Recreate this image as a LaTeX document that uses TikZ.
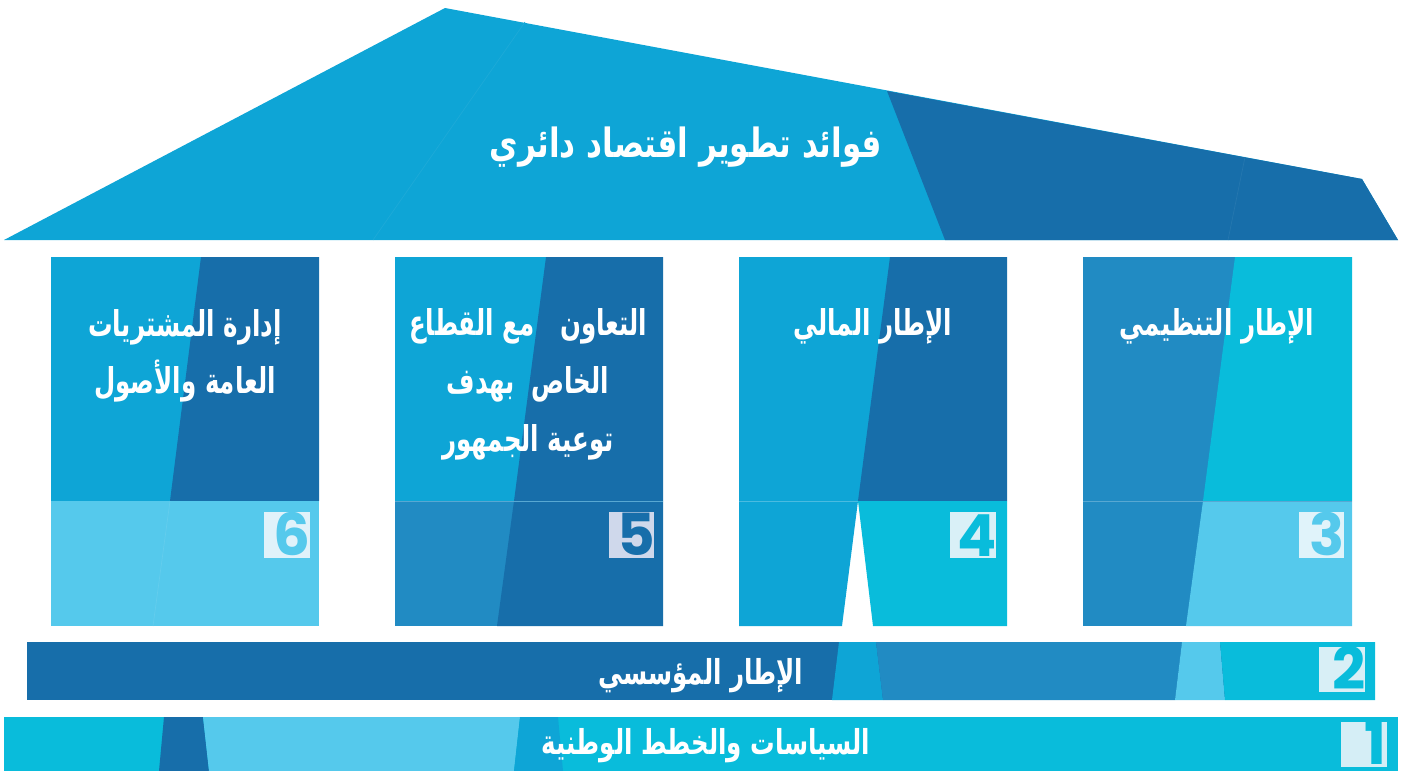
\documentclass[tikz,border=0pt]{standalone}
\usepackage{fontspec}
\usepackage{graphicx}
\newfontfamily\arabicfont[Script=Arabic]{DejaVu Sans}
\newfontfamily\digitfont{Poppins}
\TeXXeTstate=1
\definecolor{lb}{HTML}{0EA5D6}
\definecolor{db}{HTML}{176EAA}
\definecolor{mb}{HTML}{218BC3}
\definecolor{cy}{HTML}{09BCDB}
\definecolor{lc}{HTML}{55C9EC}
\definecolor{pale6}{HTML}{E0F2FA}
\definecolor{pale5}{HTML}{CFD8EB}
\definecolor{pale4}{HTML}{D9F0F7}
\definecolor{pale3}{HTML}{E0F3FA}
\definecolor{pale2}{HTML}{D8EFF6}
\definecolor{pale1}{HTML}{D5EEF6}
\tikzset{
  lbl/.style={text=white, inner sep=0pt, anchor=base,
    font=\arabicfont\bfseries\fontsize{24.5}{28}\selectfont},
  rooflbl/.style={lbl, font=\arabicfont\bfseries\fontsize{31}{34}\selectfont},
  barlbl/.style={lbl, font=\arabicfont\bfseries\fontsize{24.5}{28}\selectfont},
  digit/.style={inner sep=0pt, anchor=base east,
    font=\digitfont\bfseries\fontsize{58}{60}\selectfont},
  seam/.style={line width=0.7pt},
}
\begin{document}
\begin{tikzpicture}[x=1pt,y=-1pt]
\useasboundingbox (0,0) rectangle (1406,771);
% roof
\fill[lb] (445,8) -- (1362,179) -- (1398,240) -- (4,240) -- cycle;
\fill[db] (887,91) -- (1362,179) -- (1398,240) -- (945,240) -- cycle;
\draw[seam, lb!94!white] (525,22) -- (373,240);
\draw[seam, db!94!white] (1245,157) -- (1228,240);
\node[rooflbl] (roof) at (686,157) {\scalebox{1}[1.3]{\beginR فوائد تطوير اقتصاد دائري\endR}};
% column 6
\fill[lb] (51,257) rectangle (319,501);
\fill[db] (201,257) -- (319,257) -- (319,501) -- (170,501) -- cycle;
\fill[lc] (51,501) rectangle (319,626);
\draw[seam, lc!92!white] (170,501) -- (153,626);
% column 5
\fill[lb] (395,257) rectangle (663,501);
\fill[db] (546,257) -- (663,257) -- (663,501) -- (514,501) -- cycle;
\fill[mb] (395,501) rectangle (663,626);
\fill[db] (514,501) -- (663,501) -- (663,626) -- (497,626) -- cycle;
\draw[seam, mb!75!white] (395,501) -- (663,501);
% column 4
\fill[lb] (739,257) rectangle (1007,501);
\fill[db] (890,257) -- (1007,257) -- (1007,501) -- (858,501) -- cycle;
\fill[lb] (739,501) -- (858,501) -- (842,626) -- (739,626) -- cycle;
\fill[cy] (858,501) -- (1007,501) -- (1007,626) -- (873,626) -- cycle;
\draw[seam, lb!75!white] (739,501) -- (858,501);
% column 3
\fill[mb] (1083,257) rectangle (1352,501);
\fill[cy] (1235,257) -- (1352,257) -- (1352,501) -- (1203,501) -- cycle;
\fill[mb] (1083,501) rectangle (1352,626);
\fill[lc] (1203,501) -- (1352,501) -- (1352,626) -- (1186,626) -- cycle;
\draw[seam, mb!75!white] (1083,501) -- (1352,501);
% column texts
\node[lbl] (t6a) at (185,336) {\scalebox{1}[1.45]{\beginR إدارة المشتريات\endR}};
\node[lbl] (t6b) at (185,393) {\scalebox{1}[1.45]{\beginR العامة والأصول\endR}};
\node[lbl] (t5a) at (528,335) {\scalebox{1}[1.45]{\beginR التعاون \ \ مع القطاع\endR}};
\node[lbl] (t5b) at (528,393) {\scalebox{1}[1.45]{\beginR الخاص \ بهدف\endR}};
\node[lbl] (t5c) at (528,451) {\scalebox{1}[1.45]{\beginR توعية الجمهور\endR}};
\node[lbl] (t4) at (873,335) {\scalebox{1}[1.45]{\beginR الإطار المالي\endR}};
\node[lbl] (t3) at (1217,335) {\scalebox{1}[1.45]{\beginR الإطار التنظيمي\endR}};
% bar 2
\fill[db] (27,642) rectangle (1375,700);
\fill[lb] (839,642) -- (876,642) -- (883,700) -- (832,700) -- cycle;
\fill[mb] (876,642) -- (1182,642) -- (1175,700) -- (883,700) -- cycle;
\fill[lc] (1182,642) -- (1220,642) -- (1225,700) -- (1175,700) -- cycle;
\fill[cy] (1220,642) -- (1375,642) -- (1375,700) -- (1225,700) -- cycle;
\node[barlbl] (b2) at (701,684) {\scalebox{1}[1.4]{\beginR الإطار المؤسسي\endR}};
% bar 1
\fill[cy] (4,717) rectangle (1398,771);
\fill[db] (164,717) -- (203,717) -- (209,771) -- (159,771) -- cycle;
\fill[lc] (203,717) -- (520,717) -- (514,771) -- (209,771) -- cycle;
\fill[lb] (520,717) -- (558,717) -- (563,771) -- (514,771) -- cycle;
\node[barlbl] (b1) at (706,754) {\scalebox{1}[1.4]{\beginR السياسات والخطط الوطنية\endR}};
% number boxes
\fill[pale6] (264,512) rectangle (310,558);
\node[digit, text=lc] (n6) at (311,555) {6};
\fill[pale5] (609,512) rectangle (654,558);
\node[digit, text=db] (n5) at (655,555) {5};
\fill[pale4] (950,512) rectangle (996,558);
\node[digit, text=cy] (n4) at (997,556) {4};
\fill[pale3] (1299,512) rectangle (1344,558);
\node[digit, text=lc] (n3) at (1345,555) {3};
\fill[pale2] (1319,647) rectangle (1365,692);
\node[digit, text=cy] (n2) at (1366,689) {2};
\fill[pale1] (1341,722) rectangle (1387,767);
\node[digit, text=cy] (n1) at (1386,764) {1};
\end{tikzpicture}
\end{document}
